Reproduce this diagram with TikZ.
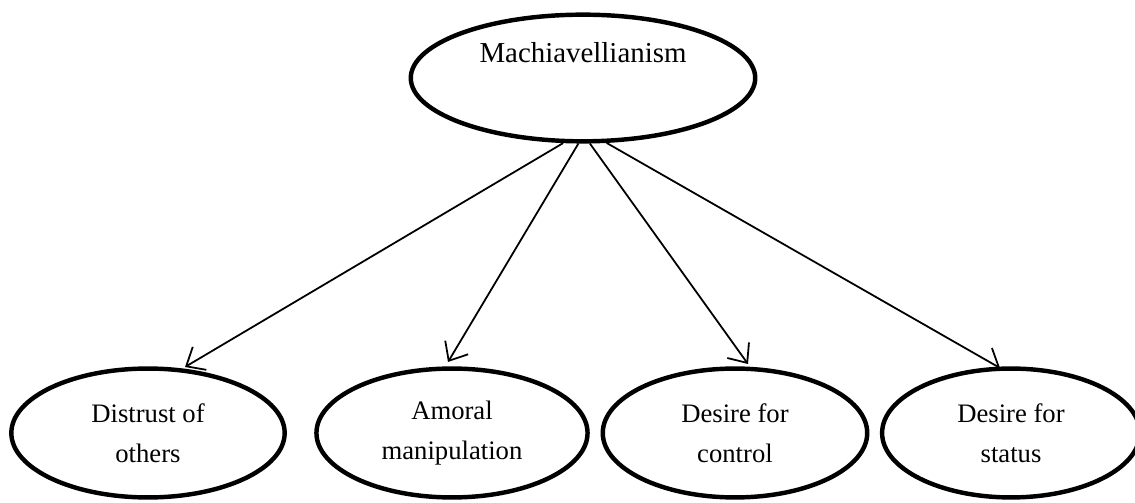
\documentclass[tikz,border=0pt]{standalone}
\usepackage{fontspec}
\setmainfont{Liberation Serif}
\usetikzlibrary{shapes.geometric,arrows.meta}
\tikzset{
  oval/.style={ellipse,draw,line width=2pt,align=center,inner sep=0pt,
    font=\fontsize{12}{18}\selectfont},
  link/.style={-{Straight Barb[length=7pt,width=12pt]},line width=0.8pt}
}
\begin{document}
\begin{tikzpicture}[x=0.45pt,y=-0.45pt]
\useasboundingbox (0,0) rectangle (1135,503);
% top trait
\node[oval,minimum width=155pt,minimum height=57pt,font=\fontsize{13}{18}\selectfont] (mach) at (583,78) {Machiavellianism\\\strut};
% the four facets
\node[oval,minimum width=123pt,minimum height=58pt] (distrust) at (148,433) {Distrust of\\others};
\node[oval,minimum width=122pt,minimum height=58pt] (amoral) at (452,433) {Amoral\\manipulation};
\node[oval,minimum width=119pt,minimum height=58pt] (control) at (735,433) {Desire for\\control};
\node[oval,minimum width=116pt,minimum height=58pt] (status) at (1011,433) {Desire for\\status};
\coordinate (t1) at (185,367);
\coordinate (t2) at (448,362);
\coordinate (t3) at (748,364);
\coordinate (t4) at (1000,368);
\draw[link] (mach.253) -- (t1);
\draw[link] (mach.266) -- (t2);
\draw[link] (mach.276) -- (t3);
\draw[link] (mach.290) -- (t4);
\end{tikzpicture}
\end{document}
